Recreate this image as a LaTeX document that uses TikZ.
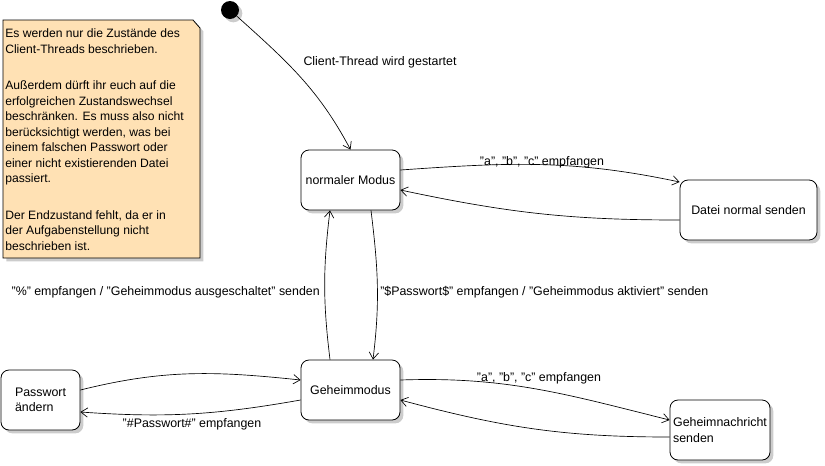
\documentclass[tikz,border=0pt]{standalone}
\usepackage{fontspec}
\setmainfont{Liberation Sans}
\usetikzlibrary{arrows.meta,calc,positioning,shadows}
\definecolor{NotizGelb}{HTML}{FFE1B4}
\definecolor{SchattenGrau}{HTML}{CCCCCC}
\tikzset{
  schatten/.style={drop shadow={shadow xshift=2.5pt,shadow yshift=-2.5pt,
    fill=SchattenGrau,opacity=1}},
  zustand/.style={draw,fill=white,rounded corners=6pt,line width=0.6pt,
    minimum height=45pt,font=\fontsize{9.3}{11.6}\selectfont,schatten},
  uebergang/.style={-{Straight Barb[length=5pt,width=7pt]},line width=0.5pt},
  beschriftung/.style={font=\fontsize{9.3}{11.6}\selectfont,inner sep=0pt}
}
\begin{document}
\begin{tikzpicture}[x=0.75pt,y=-0.75pt]
  \useasboundingbox (0,0) rectangle (825,465);

  % Notiz
  \draw[fill=NotizGelb,line width=0.6pt,schatten]
    (3,20) -- (193,20) -- (200,28) -- (200,258) -- (3,258) -- cycle;
  \node[beschriftung,anchor=north west,align=left,
    font=\fontsize{9.1}{11.6}\selectfont] (notiz) at (5,28.5)
    {Es werden nur die Zustände des\\
     Client-Threads beschrieben.\\[16pt]
     Außerdem dürft ihr euch auf die\\
     erfolgreichen Zustandswechsel\\
     beschränken. Es muss also nicht\\
     berücksichtigt werden, was bei\\
     einem falschen Passwort oder\\
     einer nicht existierenden Datei\\
     passiert.\\[16pt]
     Der Endzustand fehlt, da er in\\
     der Aufgabenstellung nicht\\
     beschrieben ist.};

  % Zustaende
  \node[circle,fill=black,minimum size=13.5pt,inner sep=0pt,schatten] (start) at (230,10) {};
  \node[zustand,minimum width=74.25pt] (normal) at (350.5,180) {normaler Modus};
  \node[zustand,minimum width=102.75pt] (datei) at (748.5,210) {Datei normal senden};
  \node[zustand,minimum width=74.25pt] (geheim) at (350.5,390) {Geheimmodus};
  \node[zustand,minimum width=59.25pt,align=left] (passwort) at (40.5,400) {Passwort\\ändern};
  \node[zustand,minimum width=75pt,inner xsep=0.5pt,align=left] (nachricht) at (720,430)
    {Geheimnachricht\\senden};

  % Uebergaenge
  \draw[uebergang] (start) to[out=-42,in=118] (normal.north);
  \node[beschriftung] (lstart) at (380,62) {Client-Thread wird gestartet};

  \draw[uebergang] ($(normal.east)+(0,-10)$) to[out=4,in=168] ($(datei.west)+(0,-28)$);
  \draw[uebergang] ($(datei.west)+(0,10)$) to[out=180,in=-12] ($(normal.east)+(0,10)$);
  \node[beschriftung] (labc) at (542,162) {"a", "b", "c" empfangen};

  \draw[uebergang] ($(normal.south)+(20.5,0)$) to[out=-83,in=83] ($(geheim.north)+(22.5,0)$);
  \draw[uebergang] ($(geheim.north)+(-20.5,0)$) to[out=97,in=-97] ($(normal.south)+(-20.5,0)$);
  \node[beschriftung,anchor=west] (lein) at (380,292)
    {"\$Passwort\$" empfangen / "Geheimmodus aktiviert" senden};
  \node[beschriftung,anchor=east] (laus) at (320,292)
    {"\%" empfangen / "Geheimmodus ausgeschaltet" senden};

  \draw[uebergang] ($(geheim.east)+(0,-10)$) to[out=2,in=166] ($(nachricht.west)+(0,-10)$);
  \draw[uebergang] ($(nachricht.west)+(0,7)$) to[out=180,in=-15] ($(geheim.east)+(0,10)$);
  \node[beschriftung] (lgeheim) at (539,378) {"a", "b", "c" empfangen};

  \draw[uebergang] ($(passwort.east)+(0,-10)$) to[out=14,in=174] ($(geheim.west)+(0,-10)$);
  \draw[uebergang] ($(geheim.west)+(0,10)$) to[out=190,in=-4] ($(passwort.east)+(0,12)$);
  \node[beschriftung] (lpass) at (192,424) {"\#Passwort\#" empfangen};
\end{tikzpicture}
\end{document}
